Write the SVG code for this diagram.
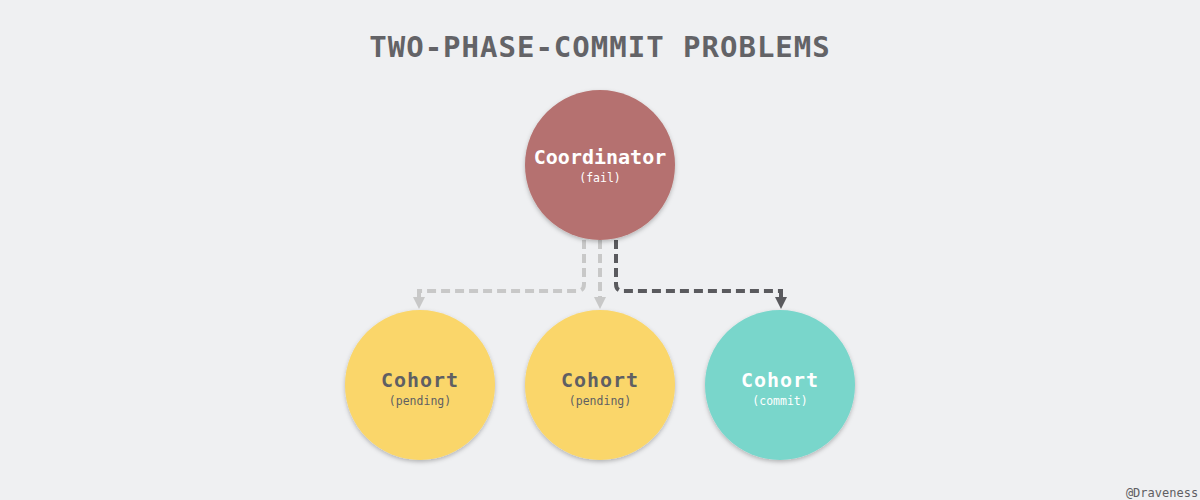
<svg xmlns="http://www.w3.org/2000/svg" width="1200" height="500" viewBox="0 0 1200 500">
<style>
.mono{font-family:"DejaVu Sans Mono","Liberation Mono",monospace;text-anchor:middle}
.title{font-size:29px;font-weight:bold;fill:#636367;letter-spacing:1px}
.main{font-size:20px;font-weight:bold}
.sub{font-size:11.5px}
.dark{fill:#5f5f63}
.light{fill:#ffffff}
.lc{fill:none;stroke:#c8c8c8;stroke-width:4;stroke-dasharray:9 5}
.dc{fill:none;stroke:#5a5a5e;stroke-width:4;stroke-dasharray:9 5}
</style>
<defs>
<filter id="sh" x="-20%" y="-20%" width="140%" height="140%">
<feDropShadow dx="0" dy="2" stdDeviation="2" flood-color="#000" flood-opacity="0.25"/>
</filter>
</defs>
<rect width="1200" height="500" fill="#eff0f2"/>
<text class="mono title" x="600" y="57">TWO-PHASE-COMMIT PROBLEMS</text>
<g id="connectors">
<path class="lc" d="M584,240 V284 Q584,291 577,291 H419 V298"/>
<path d="M413,297 L425,297 L419,309 z" fill="#c8c8c8"/>
<path class="lc" d="M600,240 V298"/>
<path d="M594,297 L606,297 L600,309 z" fill="#c8c8c8"/>
<path class="dc" d="M616,240 V284 Q616,291 623,291 H781 V298"/>
<path d="M775,297 L787,297 L781,309 z" fill="#5a5a5e"/>
</g>
<g id="coordinator">
<circle cx="600" cy="165" r="75" fill="#b5716f" filter="url(#sh)"/>
<text class="mono main light" x="600" y="164">Coordinator</text>
<text class="mono sub light" x="600" y="182">(fail)</text>
</g>
<g id="cohort1">
<circle cx="420" cy="385" r="75" fill="#fad66a" filter="url(#sh)"/>
<text class="mono main dark" x="420" y="387" letter-spacing="1">Cohort</text>
<text class="mono sub dark" x="420" y="405">(pending)</text>
</g>
<g id="cohort2">
<circle cx="600" cy="385" r="75" fill="#fad66a" filter="url(#sh)"/>
<text class="mono main dark" x="600" y="387" letter-spacing="1">Cohort</text>
<text class="mono sub dark" x="600" y="405">(pending)</text>
</g>
<g id="cohort3">
<circle cx="780" cy="385" r="75" fill="#79d6cb" filter="url(#sh)"/>
<text class="mono main light" x="780" y="387" letter-spacing="1">Cohort</text>
<text class="mono sub light" x="780" y="405">(commit)</text>
</g>
<text class="mono dark" x="1162" y="497" font-size="12">@Draveness</text>
</svg>
